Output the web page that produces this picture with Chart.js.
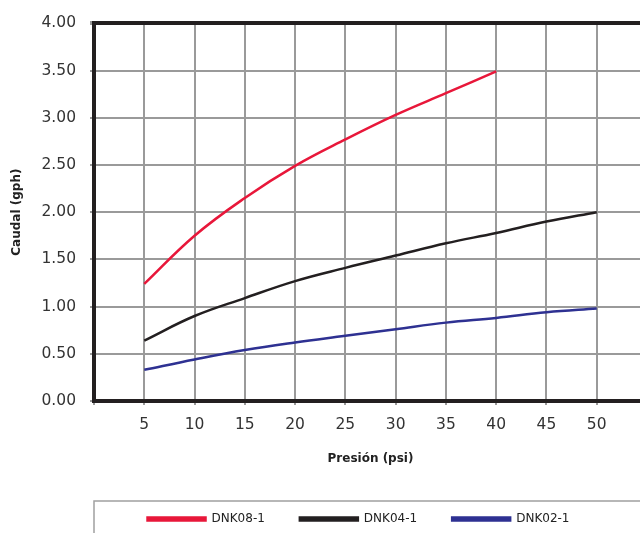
<!DOCTYPE html>
<html>
<head>
<meta charset="utf-8">
<script src="https://cdn.jsdelivr.net/npm/chart.js@4.4.1/dist/chart.umd.min.js"></script>
<style>
  html, body { margin: 0; padding: 0; background: #fff; overflow: hidden; }
  #wrap { width: 720px; height: 543px; }
</style>
</head>
<body>
<div id="wrap"><canvas id="caudalChart" width="720" height="543"></canvas></div>
<script>
// pressure (psi) and flow (gph)
const presion = [5, 10, 15, 20, 25, 30, 35, 40, 45, 50];
const dnk08 = [1.24, 1.75, 2.15, 2.49, 2.77, 3.03, 3.26, 3.49];
const dnk04 = [0.64, 0.90, 1.09, 1.27, 1.41, 1.54, 1.67, 1.78, 1.90, 2.00];
const dnk02 = [0.33, 0.44, 0.54, 0.62, 0.69, 0.76, 0.83, 0.88, 0.94, 0.98];
const seriesNames = ["DNK08-1", "DNK04-1", "DNK02-1"];
const seriesColors = ["#e8173a", "#231f20", "#2e3192"];

const toPoints = (vals) => vals.map((v, i) => ({ x: presion[i], y: v }));

const gridGray = "#9a9a9a";
const axisBlack = "#231f20";
const fontFam = "'DejaVu Sans', sans-serif";

// box round the legend, and nudge the legend items into place
const legendBox = {
  id: "legendBox",
  afterLayout(chart) {
    chart.legend.left += 62;
    chart.legend.top -= 8;
  },
  afterDraw(chart) {
    const lg = chart.legend;
    const ctx = chart.ctx;
    ctx.save();
    ctx.strokeStyle = "#a0a0a0";
    ctx.lineWidth = 1.5;
    ctx.strokeRect(chart.chartArea.left, lg.top + 23, chart.width, 60);
    ctx.restore();
  },
};

new Chart(document.getElementById("caudalChart").getContext("2d"), {
  type: "line",
  data: {
    datasets: [dnk08, dnk04, dnk02].map((vals, i) => ({
      label: seriesNames[i],
      data: toPoints(vals),
      borderColor: seriesColors[i],
      backgroundColor: seriesColors[i],
      borderWidth: 2.5,
      pointRadius: 0,
      tension: 0.4,
      fill: false,
    })),
  },
  options: {
    responsive: false,
    devicePixelRatio: 1,
    animation: false,
    layout: { padding: { left: 8, right: 73, top: 22, bottom: 0 } },
    scales: {
      x: {
        type: "linear",
        min: 0,
        max: 55,
        ticks: {
          stepSize: 5,
          color: "#333",
          font: { family: fontFam, size: 15.5 },
          padding: 11,
          maxRotation: 0,
          callback: (v) => (v === 0 || v === 55 ? "" : v),
        },
        grid: { color: gridGray, lineWidth: 2, tickLength: 4, tickColor: gridGray },
        border: { color: axisBlack, width: 4 },
        title: {
          display: true,
          text: "Presión (psi)",
          color: "#222",
          font: { family: fontFam, size: 12, weight: "bold" },
          padding: { top: 6, bottom: 20 },
        },
      },
      y: {
        min: 0,
        max: 4,
        afterFit: (scale) => {
          scale.width = 86;
        },
        ticks: {
          stepSize: 0.5,
          color: "#333",
          font: { family: fontFam, size: 15.5 },
          padding: 14,
          callback: (v) => v.toFixed(2),
        },
        grid: {
          color: (c) => (c.tick && c.tick.value === 4 ? axisBlack : gridGray),
          lineWidth: (c) => (c.tick && c.tick.value === 4 ? 4 : 2),
          tickLength: 4,
          tickColor: gridGray,
        },
        border: { color: axisBlack, width: 4 },
        title: {
          display: true,
          text: "Caudal (gph)",
          color: "#222",
          font: { family: fontFam, size: 12, weight: "bold" },
          padding: { top: 2, bottom: 0 },
        },
      },
    },
    plugins: {
      legend: {
        position: "bottom",
        labels: {
          boxWidth: 58,
          boxHeight: 3,
          padding: 35,
          color: "#222",
          font: { family: fontFam, size: 12 },
        },
      },
      tooltip: { enabled: false },
    },
  },
  plugins: [legendBox],
});
</script>
</body>
</html>
